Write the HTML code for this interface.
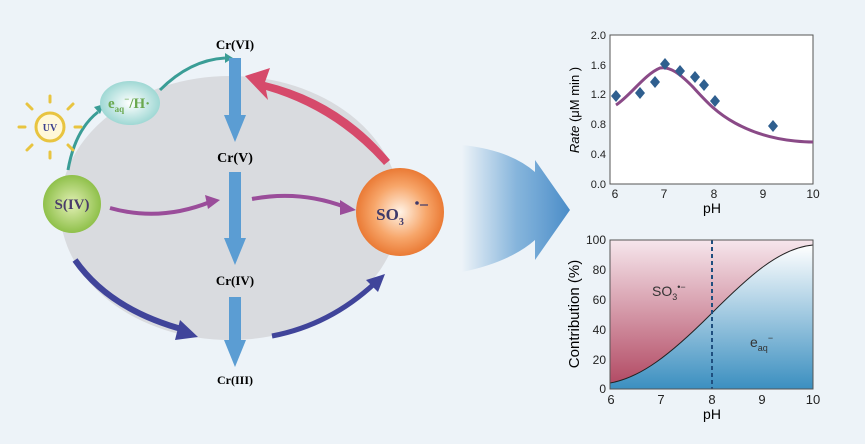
<!DOCTYPE html>
<html><head><meta charset="utf-8"><style>
html,body{margin:0;padding:0;background:#edf3f8;}
svg{display:block;font-family:"Liberation Sans",sans-serif;}
.ser{font-family:"Liberation Serif",serif;font-weight:bold;}
</style></head><body>
<svg width="865" height="444" viewBox="0 0 865 444" xmlns="http://www.w3.org/2000/svg">
<defs>
<linearGradient id="big" x1="0" x2="1" y1="0" y2="0">
<stop offset="0" stop-color="#5b9bd0" stop-opacity="0"/><stop offset="0.5" stop-color="#5b9bd0" stop-opacity="0.7"/><stop offset="1" stop-color="#4a8cc8"/></linearGradient>
<linearGradient id="pink" x1="0" x2="0" y1="0" y2="1">
<stop offset="0" stop-color="#f6e6ec"/><stop offset="1" stop-color="#b0455f"/></linearGradient>
<linearGradient id="blue" x1="0" x2="0" y1="0" y2="1">
<stop offset="0" stop-color="#ffffff"/><stop offset="1" stop-color="#3b8fc0"/></linearGradient>
<radialGradient id="org" cx="0.5" cy="0.5" r="0.5"><stop offset="0" stop-color="#fff3e6"/><stop offset="0.6" stop-color="#f7a66a"/><stop offset="1" stop-color="#ea7a35"/></radialGradient>
<radialGradient id="grn" cx="0.5" cy="0.5" r="0.5"><stop offset="0" stop-color="#e2f0b5"/><stop offset="1" stop-color="#8fc04a"/></radialGradient>
<radialGradient id="cy" cx="0.5" cy="0.5" r="0.5"><stop offset="0" stop-color="#ffffff"/><stop offset="1" stop-color="#9fd8d4"/></radialGradient>
<clipPath id="c2"><rect x="610" y="240" width="203" height="149"/></clipPath>
</defs>
<ellipse cx="230" cy="208" rx="170" ry="132" fill="#d9dbdf"/>
<path d="M160 90 Q190 60 225 58" fill="none" stroke="#3a9d96" stroke-width="3"/>
<polygon points="225,53 233,58 225,63" fill="#3a9d96"/>
<path d="M68 170 Q75 130 98 112" fill="none" stroke="#3a9d96" stroke-width="3"/>
<polygon points="94,107 104,104 100,114" fill="#3a9d96"/>
<path d="M390 160 Q340 100 265 82 L270 68 L245 76 L268 100 L266 90 Q335 110 384 165Z" fill="#d64a6b"/>
<path d="M110 208 Q160 222 210 202" fill="none" stroke="#9a4d9a" stroke-width="4"/>
<polygon points="205,195 220,200 208,209" fill="#9a4d9a"/>
<path d="M252 199 Q300 190 345 207" fill="none" stroke="#9a4d9a" stroke-width="4"/>
<polygon points="340,200 356,210 340,215" fill="#9a4d9a"/>
<path d="M75 260 Q110 310 185 330" fill="none" stroke="#40449a" stroke-width="6"/>
<polygon points="180,320 198,337 175,340" fill="#40449a"/>
<path d="M272 336 Q330 325 375 283" fill="none" stroke="#40449a" stroke-width="5"/>
<polygon points="366,280 385,274 378,292" fill="#40449a"/>
<g fill="#5b9dd3">
<rect x="229" y="58" width="12" height="60"/><polygon points="224,115 246,115 235,142"/>
<rect x="229" y="172" width="12" height="70"/><polygon points="224,238 246,238 235,265"/>
<rect x="229" y="297" width="12" height="46"/><polygon points="224,340 246,340 235,367"/>
</g>
<text x="235" y="49" class="ser" font-size="13" text-anchor="middle">Cr(VI)</text>
<text x="235" y="162" class="ser" font-size="14" text-anchor="middle">Cr(V)</text>
<text x="235" y="285" class="ser" font-size="13" text-anchor="middle">Cr(IV)</text>
<text x="235" y="384" class="ser" font-size="12" text-anchor="middle">Cr(III)</text>
<g stroke="#e8c440" stroke-width="3" stroke-linecap="round">
<line x1="50" y1="102" x2="50" y2="96"/><line x1="50" y1="152" x2="50" y2="158"/>
<line x1="25" y1="127" x2="19" y2="127"/><line x1="75" y1="127" x2="81" y2="127"/>
<line x1="32" y1="109" x2="27" y2="104"/><line x1="68" y1="109" x2="73" y2="104"/>
<line x1="32" y1="145" x2="27" y2="150"/><line x1="68" y1="145" x2="73" y2="150"/>
</g>
<circle cx="50" cy="127" r="14" fill="#fff8d8" stroke="#e8c440" stroke-width="3"/>
<text x="50" y="131" class="ser" font-size="10" fill="#3b3f8f" text-anchor="middle">UV</text>
<ellipse cx="130" cy="103" rx="30" ry="22" fill="url(#cy)"/>
<text x="108" y="108" class="ser" font-size="15" fill="#6aa84f">e<tspan font-size="9" dy="4">aq</tspan><tspan font-size="9" dy="-10">−</tspan><tspan dy="6">/H·</tspan></text>
<circle cx="72" cy="204" r="29" fill="url(#grn)"/>
<text x="72" y="209" class="ser" font-size="15" fill="#4a3c6a" text-anchor="middle">S(IV)</text>
<circle cx="400" cy="212" r="44" fill="url(#org)"/>
<text x="390" y="220" class="ser" font-size="17" fill="#3f3a6a" text-anchor="middle">SO<tspan font-size="10" dy="5">3</tspan></text>
<circle cx="417" cy="203" r="1.8" fill="#3f3a6a"/><line x1="420" y1="205" x2="428" y2="205" stroke="#3f3a6a" stroke-width="1.2"/>
<path d="M462 145 Q510 150 535 172 L535 160 L570 210 L535 260 L535 240 Q510 262 462 272 Z" fill="url(#big)"/>
<rect x="610" y="35" width="203" height="149" fill="#fff" stroke="#555" stroke-width="1"/>
<g font-size="11" fill="#222" text-anchor="end">
<text x="606" y="39">2.0</text><text x="606" y="69">1.6</text><text x="606" y="98">1.2</text><text x="606" y="128">0.8</text><text x="606" y="158">0.4</text><text x="606" y="188">0.0</text>
</g>
<g font-size="12" fill="#222" text-anchor="middle">
<text x="615" y="198">6</text><text x="664" y="198">7</text><text x="714" y="198">8</text><text x="763" y="198">9</text><text x="813" y="198">10</text>
</g>
<text x="712" y="213" font-size="14" text-anchor="middle">pH</text>
<text transform="translate(579,110) rotate(-90)" font-size="13" text-anchor="middle"><tspan font-style="italic">Rate</tspan> (μM min )</text>
<path d="M616 105 C630 96 645 74 660 68 C670 66 680 74 692 86 C705 100 715 112 735 123 C755 134 775 139 795 141 C805 142 810 142 813 142" fill="none" stroke="#8a4a87" stroke-width="3"/>
<g fill="#2f5f8f">
<polygon points="616,90 621,96 616,102 611,96"/><polygon points="640,87 645,93 640,99 635,93"/>
<polygon points="655,76 660,82 655,88 650,82"/><polygon points="665,58 670,64 665,70 660,64"/>
<polygon points="680,65 685,71 680,77 675,71"/><polygon points="695,71 700,77 695,83 690,77"/>
<polygon points="704,79 709,85 704,91 699,85"/><polygon points="715,95 720,101 715,107 710,101"/>
<polygon points="773,120 778,126 773,132 768,126"/>
</g>
<g clip-path="url(#c2)">
<rect x="610" y="240" width="203" height="149" fill="url(#pink)"/>
<path d="M610 383 C640 378 670 355 711 314 C750 275 780 248 813 245 L813 389 L610 389Z" fill="url(#blue)"/>
<path d="M610 383 C640 378 670 355 711 314 C750 275 780 248 813 245" fill="none" stroke="#222" stroke-width="1"/>
<line x1="712" y1="240" x2="712" y2="389" stroke="#1f4f7f" stroke-width="2" stroke-dasharray="4,3"/>
</g>
<rect x="610" y="240" width="203" height="149" fill="none" stroke="#555"/>
<g font-size="12" fill="#222" text-anchor="end">
<text x="606" y="244">100</text><text x="606" y="274">80</text><text x="606" y="304">60</text><text x="606" y="334">40</text><text x="606" y="364">20</text><text x="606" y="393">0</text>
</g>
<g font-size="13" fill="#222" text-anchor="middle">
<text x="611" y="404">6</text><text x="661" y="404">7</text><text x="712" y="404">8</text><text x="762" y="404">9</text><text x="813" y="404">10</text>
</g>
<text x="712" y="419" font-size="14" text-anchor="middle">pH</text>
<text transform="translate(579,314) rotate(-90)" font-size="15" text-anchor="middle">Contribution (%)</text>
<text x="652" y="296" font-size="14" fill="#333">SO<tspan font-size="9" dy="4">3</tspan><tspan font-size="9" dy="-10">•−</tspan></text>
<text x="750" y="347" font-size="14" fill="#333">e<tspan font-size="9" dy="4">aq</tspan><tspan font-size="9" dy="-10">−</tspan></text>
</svg>
</body></html>
